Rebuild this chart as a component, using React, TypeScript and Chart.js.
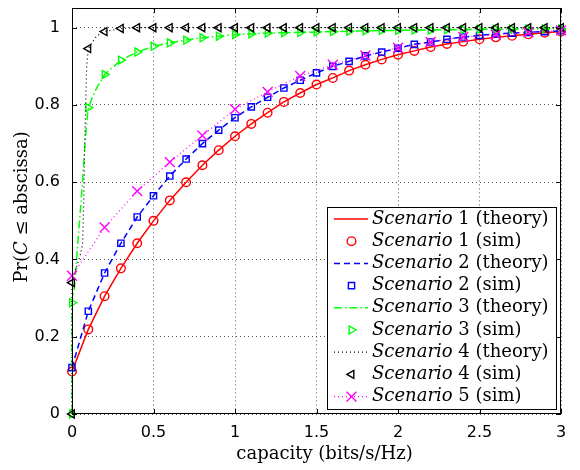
import React, { useEffect, useRef } from "react";
import { Chart, registerables } from "chart.js";
import { drawPoint } from "chart.js/helpers";

Chart.register(...registerables);

// ---- data ----
const capSim = [0, 0.1, 0.2, 0.3, 0.4, 0.5, 0.6, 0.7, 0.8, 0.9, 1.0, 1.1, 1.2, 1.3, 1.4, 1.5, 1.6, 1.7, 1.8, 1.9, 2.0, 2.1, 2.2, 2.3, 2.4, 2.5, 2.6, 2.7, 2.8, 2.9, 3.0];
const capSim5 = [0, 0.2, 0.4, 0.6, 0.8, 1.0, 1.2, 1.4, 1.6, 1.8, 2.0, 2.2, 2.4, 2.6, 2.8, 3.0];

const scen1Sim = [0.110, 0.219, 0.305, 0.377, 0.442, 0.500, 0.553, 0.600, 0.644, 0.683, 0.719, 0.751, 0.780, 0.808, 0.831, 0.853, 0.870, 0.889, 0.904, 0.918, 0.930, 0.940, 0.950, 0.958, 0.964, 0.970, 0.975, 0.979, 0.983, 0.987, 0.990];
const scen2Sim = [0.120, 0.266, 0.365, 0.442, 0.510, 0.565, 0.616, 0.660, 0.700, 0.735, 0.767, 0.795, 0.820, 0.844, 0.864, 0.883, 0.900, 0.913, 0.927, 0.937, 0.947, 0.957, 0.963, 0.970, 0.976, 0.980, 0.984, 0.986, 0.988, 0.990, 0.992];
const scen3Sim = [0.288, 0.793, 0.879, 0.916, 0.937, 0.952, 0.961, 0.968, 0.974, 0.978, 0.982, 0.984, 0.986, 0.987, 0.988, 0.989, 0.990, 0.991, 0.992, 0.993, 0.993, 0.994, 0.994, 0.995, 0.995, 0.996, 0.996, 0.996, 0.997, 0.997, 0.997];
const scen4Sim = [0.340, 0.946, 0.990, 0.998, 1.0, 1.0, 1.0, 1.0, 1.0, 1.0, 1.0, 1.0, 1.0, 1.0, 1.0, 1.0, 1.0, 1.0, 1.0, 1.0, 1.0, 1.0, 1.0, 1.0, 1.0, 1.0, 1.0, 1.0, 1.0, 1.0, 1.0];
const scen5Sim = [0.358, 0.483, 0.577, 0.652, 0.721, 0.789, 0.834, 0.875, 0.904, 0.928, 0.948, 0.963, 0.976, 0.982, 0.988, 0.993];

// extra simulated sample at the origin for scenarios 3 and 4
const capOrigin = [0];
const scen3Origin = [0];
const scen4Origin = [0];

const scen1Theory = [0.110, 0.219, 0.305, 0.377, 0.442, 0.500, 0.553, 0.600, 0.644, 0.683, 0.719, 0.751, 0.780, 0.808, 0.831, 0.853, 0.870, 0.889, 0.904, 0.918, 0.930, 0.940, 0.950, 0.958, 0.964, 0.970, 0.975, 0.979, 0.983, 0.987, 0.990];
const scen2Theory = [0.120, 0.266, 0.365, 0.442, 0.510, 0.565, 0.616, 0.660, 0.700, 0.735, 0.767, 0.795, 0.820, 0.844, 0.864, 0.883, 0.900, 0.913, 0.927, 0.937, 0.947, 0.957, 0.963, 0.970, 0.976, 0.980, 0.984, 0.986, 0.988, 0.990, 0.992];

const capTheory3 = [0, 0, 0.016, 0.035, 0.05, 0.066, 0.08, 0.09, 0.1, 0.14, 0.2, 0.3, 0.4, 0.5, 0.6, 0.7, 0.8, 0.9, 1.0, 1.1, 1.2, 1.3, 1.4, 1.5, 1.6, 1.7, 1.8, 1.9, 2.0, 2.1, 2.2, 2.3, 2.4, 2.5, 2.6, 2.7, 2.8, 2.9, 3.0];
const scen3Theory = [0, 0.29, 0.33, 0.44, 0.52, 0.61, 0.70, 0.755, 0.793, 0.835, 0.879, 0.916, 0.937, 0.952, 0.961, 0.968, 0.974, 0.978, 0.982, 0.984, 0.986, 0.987, 0.988, 0.989, 0.990, 0.991, 0.992, 0.993, 0.993, 0.994, 0.994, 0.995, 0.995, 0.996, 0.996, 0.996, 0.997, 0.997, 0.997];

const capTheory4 = [0, 0, 0.02, 0.05, 0.065, 0.072, 0.078, 0.085, 0.09, 0.1, 0.15, 0.2, 0.3, 0.4, 1.0, 2.0, 3.0];
const scen4Theory = [0, 0.34, 0.37, 0.41, 0.44, 0.55, 0.70, 0.82, 0.90, 0.946, 0.978, 0.990, 0.998, 1.0, 1.0, 1.0, 1.0];

const xTicks = [0, 0.5, 1, 1.5, 2, 2.5, 3];
const yTicks = [0, 0.2, 0.4, 0.6, 0.8, 1];

const legendItalic = ["Scenario", "Scenario", "Scenario", "Scenario", "Scenario", "Scenario", "Scenario", "Scenario", "Scenario"];
const legendRest = [" 1 (theory)", " 1 (sim)", " 2 (theory)", " 2 (sim)", " 3 (theory)", " 3 (sim)", " 4 (theory)", " 4 (sim)", " 5 (sim)"];

const pts = (xs: number[], ys: number[]) => xs.map((x, i) => ({ x, y: ys[i] }));

const SERIF = '"DejaVu Serif", serif';
const SANS = '"DejaVu Sans", sans-serif';

const decorPlugin = {
  id: "decor",
  afterDraw(chart: any) {
    const ctx: CanvasRenderingContext2D = chart.ctx;
    const { left, right, top, bottom } = chart.chartArea;
    const xs = chart.scales.x;
    const ys = chart.scales.y;
    const L = Math.round(left), R = Math.round(right), T = Math.round(top), B = Math.round(bottom);
    ctx.save();
    ctx.setLineDash([]);
    ctx.strokeStyle = "#000";
    ctx.lineWidth = 1;
    // box
    ctx.strokeRect(L + 0.5, T + 0.5, R - L - 1, B - T - 1);
    // inward ticks
    const tl = 5;
    ctx.beginPath();
    xTicks.forEach((v) => {
      const p = Math.round(xs.getPixelForValue(v)) + 0.5;
      ctx.moveTo(p, B); ctx.lineTo(p, B - tl);
      ctx.moveTo(p, T); ctx.lineTo(p, T + tl);
    });
    yTicks.forEach((v) => {
      const p = Math.round(ys.getPixelForValue(v)) + 0.5;
      ctx.moveTo(L, p); ctx.lineTo(L + tl, p);
      ctx.moveTo(R, p); ctx.lineTo(R - tl, p);
    });
    ctx.stroke();

    // axis titles
    ctx.fillStyle = "#000";
    ctx.textBaseline = "middle";
    ctx.textAlign = "left";
    const fs = 18;
    ctx.font = `${fs}px ${SERIF}`;
    const xt = "capacity (bits/s/Hz)";
    const xw = ctx.measureText(xt).width;
    ctx.fillText(xt, (L + R) / 2 - xw / 2 + 8, 454);

    // y title with italic C
    const parts: [string, boolean][] = [["Pr(", false], ["C", true], [" \u2264 abscissa)", false]];
    let total = 0;
    const widths = parts.map(([t, it]) => {
      ctx.font = `${it ? "italic " : ""}${fs}px ${SERIF}`;
      const w = ctx.measureText(t).width;
      total += w;
      return w;
    });
    ctx.save();
    ctx.translate(22, (T + B) / 2 - 4);
    ctx.rotate(-Math.PI / 2);
    let cx = -total / 2;
    parts.forEach(([t, it], i) => {
      ctx.font = `${it ? "italic " : ""}${fs}px ${SERIF}`;
      ctx.fillText(t, cx, 0);
      cx += widths[i];
    });
    ctx.restore();

    // legend
    const bx = 327, by = 207, bw = 229, bh = 202;
    ctx.fillStyle = "#fff";
    ctx.fillRect(bx, by, bw, bh);
    ctx.strokeStyle = "#000";
    ctx.lineWidth = 1;
    ctx.strokeRect(bx + 0.5, by + 0.5, bw, bh);
    const rowH = 22.2;
    chart.data.datasets.forEach((ds: any, i: number) => {
      const cy = by + 12 + rowH * i;
      if (ds.showLine) {
        ctx.save();
        ctx.strokeStyle = ds.borderColor;
        ctx.lineWidth = ds.borderWidth;
        ctx.setLineDash(ds.borderDash || []);
        ctx.beginPath();
        ctx.moveTo(334, cy);
        ctx.lineTo(368, cy);
        ctx.stroke();
        ctx.restore();
      }
      if (ds.pointRadius > 0) {
        ctx.save();
        ctx.setLineDash([]);
        ctx.strokeStyle = ds.pointBorderColor;
        ctx.fillStyle = "rgba(0,0,0,0)";
        ctx.lineWidth = ds.pointBorderWidth;
        drawPoint(ctx, { pointStyle: ds.pointStyle, rotation: ds.pointRotation || 0, radius: ds.pointRadius, borderWidth: ds.pointBorderWidth }, 351.5, cy);
        ctx.restore();
      }
      ctx.fillStyle = "#000";
      ctx.font = `italic ${fs}px ${SERIF}`;
      ctx.fillText(legendItalic[i], 372, cy);
      const w = ctx.measureText(legendItalic[i]).width;
      ctx.font = `${fs}px ${SERIF}`;
      ctx.fillText(legendRest[i], 372 + w, cy);
    });
    ctx.restore();
  },
};

export default function App() {
  const ref = useRef<HTMLCanvasElement | null>(null);

  useEffect(() => {
    if (!ref.current) return;
    const theory = (data: any[], color: string, dash: number[], width: number) => ({
      data,
      showLine: true,
      borderColor: color,
      borderWidth: width,
      borderDash: dash,
      pointRadius: 0,
      pointHoverRadius: 0,
      fill: false,
      tension: 0,
      clip: false,
    });
    const sim = (data: any[], color: string, style: string, radius: number, rotation = 0) => ({
      data,
      showLine: false,
      borderColor: color,
      backgroundColor: "rgba(0,0,0,0)",
      pointStyle: style,
      pointRadius: radius,
      pointHoverRadius: radius,
      pointRotation: rotation,
      pointBorderColor: color,
      pointBackgroundColor: "rgba(0,0,0,0)",
      pointBorderWidth: 1.4,
      borderWidth: 1.4,
      clip: false,
    });
    const datasets: any[] = [
      theory(pts(capSim, scen1Theory), "#ff0000", [], 1.5),
      sim(pts(capSim, scen1Sim), "#ff0000", "circle", 4.3),
      theory(pts(capSim, scen2Theory), "#0000ff", [6, 4], 1.5),
      sim(pts(capSim, scen2Sim), "#0000ff", "rect", 4.4),
      theory(pts(capTheory3, scen3Theory), "#00ff00", [8, 3, 1.5, 3], 1.5),
      sim([...pts(capOrigin, scen3Origin), ...pts(capSim, scen3Sim)], "#00ff00", "triangle", 4.6, 90),
      theory(pts(capTheory4, scen4Theory), "#000000", [1, 3], 1.2),
      sim([...pts(capOrigin, scen4Origin), ...pts(capSim, scen4Sim)], "#000000", "triangle", 4.6, 270),
      {
        ...sim(pts(capSim5, scen5Sim), "#ff00ff", "crossRot", 7),
        showLine: true,
        borderDash: [1, 3],
        borderWidth: 1.2,
        tension: 0,
      },
    ];
    datasets.forEach((d, i) => (d.order = datasets.length - i));

    const chart = new Chart(ref.current, {
      type: "scatter",
      data: { datasets },
      options: {
        responsive: false,
        animation: false,
        devicePixelRatio: 1,
        events: [],
        layout: { padding: { top: 5, right: 19, left: 0, bottom: 0 } },
        plugins: { legend: { display: false }, tooltip: { enabled: false }, title: { display: false } },
        scales: {
          x: {
            type: "linear",
            min: 0,
            max: 3,
            afterBuildTicks: (s: any) => { s.ticks = xTicks.map((v) => ({ value: v })); },
            afterFit: (s: any) => {
              s.height = 56;
              s.paddingLeft = 0; s.paddingRight = 0; s.paddingTop = 0; s.paddingBottom = 0;
            },
            ticks: {
              color: "#000",
              font: { family: SANS, size: 16 },
              padding: 9,
              maxRotation: 0,
              autoSkip: false,
              callback: (v: any) => String(v),
            },
            grid: { color: "rgba(0,0,0,0.65)", lineWidth: 1, drawTicks: false },
            border: { display: false, dash: [1, 3] },
          },
          y: {
            type: "linear",
            min: 0,
            max: 1.05,
            afterBuildTicks: (s: any) => { s.ticks = yTicks.map((v) => ({ value: v })); },
            afterFit: (s: any) => {
              s.width = 72;
              s.paddingLeft = 0; s.paddingRight = 0; s.paddingTop = 0; s.paddingBottom = 0;
            },
            ticks: {
              color: "#000",
              font: { family: SANS, size: 16 },
              padding: 12,
              autoSkip: false,
              callback: (v: any) => String(Math.round(v * 10) / 10),
            },
            grid: { color: "rgba(0,0,0,0.65)", lineWidth: 1, drawTicks: false },
            border: { display: false, dash: [1, 3] },
          },
        },
      },
      plugins: [decorPlugin],
    });
    return () => chart.destroy();
  }, []);

  return (
    <div style={{ position: "absolute", left: 0, top: 0, width: 580, height: 470, background: "#fff" }}>
      <canvas ref={ref} width={580} height={470} style={{ display: "block", width: 580, height: 470 }} />
    </div>
  );
}
